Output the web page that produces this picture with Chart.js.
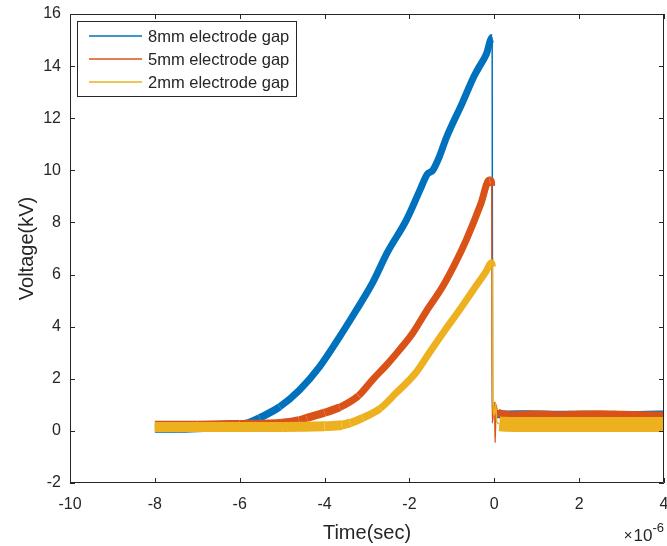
<!DOCTYPE html>
<html>
<head>
<meta charset="utf-8">
<script src="https://cdn.jsdelivr.net/npm/chart.js@4/dist/chart.umd.min.js"></script>
<style>
  html, body { margin: 0; padding: 0; background: #ffffff; }
  canvas { display: block; }
</style>
</head>
<body>
<canvas id="chart" width="667" height="546"></canvas>
<script>
// Discharge voltage waveforms for three electrode gaps.
// Time is in microseconds (the axis carries a x10^-6 multiplier), voltage in kV.

const seriesLabels = ['8mm electrode gap', '5mm electrode gap', '2mm electrode gap'];
const seriesColors = ['#0072BD', '#D95319', '#EDB120'];

const time8mm = [-8, -7.5, -7, -6.5, -6, -5.8, -5.53, -5.06, -4.59, -4.12, -3.65, -3.25, -2.87, -2.52,
                 -2.07, -1.75, -1.58, -1.45, -1.3, -1.13, -0.75, -0.48, -0.38, -0.19, -0.05, -0.04,
                 0.02, 0.06, 0.3, 0.8, 1.5, 2.2, 3.0, 3.6, 4.0];
const volt8mm = [0.1, 0.1, 0.12, 0.14, 0.2, 0.3, 0.5, 0.92, 1.57, 2.46, 3.6, 4.64, 5.68, 6.85,
                 8.1, 9.25, 9.85, 10.0, 10.5, 11.25, 12.6, 13.6, 13.9, 14.45, 15.1, 0.9,
                 0.75, 0.65, 0.63, 0.64, 0.62, 0.62, 0.6, 0.62, 0.63];

const time5mm = [-8, -7, -6, -5, -4.6, -4.42, -4.0, -3.65, -3.2, -2.87, -2.5, -2.24, -1.92, -1.6,
                 -1.22, -0.9, -0.66, -0.31, -0.12, -0.08, -0.06, -0.05, 0.01, 0.02, 0.04, 0.08,
                 0.5, 1.0, 1.5, 2.0, 2.5, 3.0, 3.5, 4.0];
const volt5mm = [0.22, 0.22, 0.25, 0.3, 0.4, 0.5, 0.7, 0.9, 1.35, 1.96, 2.6, 3.1, 3.76, 4.6,
                 5.53, 6.5, 7.33, 8.75, 9.63, 9.6, 9.4, 0.3, 1.1, -0.45, 1.0, 0.7,
                 0.6, 0.63, 0.6, 0.63, 0.64, 0.62, 0.6, 0.58];

const time2mm = [-8, -7, -6, -5, -4, -3.6, -3.4, -3.1, -2.7, -2.31, -1.84, -1.53, -1.2, -0.82,
                 -0.5, -0.2, -0.07, -0.045, -0.035, 0.0, 0.03, 0.06, 0.12, 0.5, 1.0, 1.5,
                 2.0, 2.5, 3.0, 3.5, 4.0];
const volt2mm = [0.15, 0.15, 0.15, 0.15, 0.18, 0.22, 0.3, 0.5, 0.85, 1.46, 2.25, 3.0, 3.78, 4.64,
                 5.4, 6.1, 6.45, 6.3, 1.2, 0.6, 1.1, 0.35, 0.27, 0.25, 0.25, 0.25,
                 0.25, 0.25, 0.25, 0.25, 0.25];

const xTicks = [-10, -8, -6, -4, -2, 0, 2, 4];
const yTicks = [-2, 0, 2, 4, 6, 8, 10, 12, 14, 16];

const FONT = "'Liberation Sans', Arial, Helvetica, sans-serif";
const AXIS_COLOR = '#262626';

function toPoints(t, v) {
  return t.map((x, i) => ({ x: x, y: v[i] }));
}

// Noisy traces are drawn as wide strokes whose width eases from the flat baseline
// to the ramp; the fast collapse and ringing at t = 0 are hairlines.
function bandWidth(flat, rising, after) {
  return ctx => {
    const x0 = ctx.p0.parsed.x;
    const dx = Math.abs(ctx.p1.x - ctx.p0.x);
    const dy = Math.abs(ctx.p1.y - ctx.p0.y);
    if (x0 > -0.07 && x0 < 0.1 && dx < 4) return 1.5;
    if (x0 >= 0.05) return after;
    const slope = dy / Math.max(dx, 0.01);
    const k = Math.max(0, 1 - slope / 0.7);
    return rising + (flat - rising) * k;
  };
}

const widths = [
  bandWidth(9, 7, 8),
  bandWidth(9, 7, 8),
  bandWidth(10, 7, 15)
];

const seriesData = [toPoints(time8mm, volt8mm), toPoints(time5mm, volt5mm), toPoints(time2mm, volt2mm)];

const datasets = seriesData.map((pts, i) => ({
  label: seriesLabels[i],
  data: pts,
  borderColor: seriesColors[i],
  backgroundColor: seriesColors[i],
  borderWidth: 7,
  borderJoinStyle: 'round',
  borderCapStyle: 'butt',
  pointRadius: 0,
  cubicInterpolationMode: 'monotone',
  fill: false,
  clip: 0,
  order: 3 - i,
  segment: { borderWidth: widths[i] }
}));

// Box outline, inward tick marks, legend and the exponent label.
const frame = {
  id: 'frame',
  afterDraw(chart) {
    const { ctx, chartArea: a, scales: { x, y } } = chart;
    ctx.save();
    ctx.strokeStyle = AXIS_COLOR;
    ctx.lineWidth = 1;
    ctx.beginPath();
    ctx.rect(Math.round(a.left) + 0.5, Math.round(a.top) + 0.5,
             Math.round(a.right - a.left) - 1, Math.round(a.bottom - a.top) - 1);
    ctx.stroke();

    const tl = 5;
    ctx.beginPath();
    xTicks.forEach(v => {
      const px = Math.round(x.getPixelForValue(v)) + 0.5;
      ctx.moveTo(px, a.bottom); ctx.lineTo(px, a.bottom - tl);
      ctx.moveTo(px, a.top); ctx.lineTo(px, a.top + tl);
    });
    yTicks.forEach(v => {
      const py = Math.round(y.getPixelForValue(v)) + 0.5;
      ctx.moveTo(a.left, py); ctx.lineTo(a.left + tl, py);
      ctx.moveTo(a.right, py); ctx.lineTo(a.right - tl, py);
    });
    ctx.stroke();

    // legend
    const lx = 77, ly = 21, lw = 219, lh = 75;
    ctx.fillStyle = '#ffffff';
    ctx.fillRect(lx, ly, lw, lh);
    ctx.strokeStyle = AXIS_COLOR;
    ctx.strokeRect(lx + 0.5, ly + 0.5, lw, lh);
    ctx.font = '16.5px ' + FONT;
    ctx.textBaseline = 'middle';
    ctx.textAlign = 'left';
    seriesLabels.forEach((lab, i) => {
      const rowY = 36 + i * 23;
      ctx.strokeStyle = seriesColors[i];
      ctx.lineWidth = 1.5;
      ctx.beginPath();
      ctx.moveTo(89, rowY); ctx.lineTo(142, rowY);
      ctx.stroke();
      ctx.fillStyle = AXIS_COLOR;
      ctx.fillText(lab, 148, rowY + 1);
    });

    // x10^-6 multiplier
    ctx.fillStyle = AXIS_COLOR;
    ctx.textBaseline = 'alphabetic';
    ctx.textAlign = 'left';
    const sup = '-6';
    ctx.font = '13px ' + FONT;
    const supW = ctx.measureText(sup).width;
    ctx.font = '17px ' + FONT;
    const baseW = ctx.measureText('10').width;
    ctx.font = '15px ' + FONT;
    const timesW = ctx.measureText('\u00d7').width;
    const right = 664;
    const sx = right - supW - baseW - timesW - 1;
    ctx.fillText('\u00d7', sx, 540);
    ctx.font = '17px ' + FONT;
    ctx.fillText('10', sx + timesW + 1, 541);
    ctx.font = '13px ' + FONT;
    ctx.fillText(sup, sx + timesW + 1 + baseW, 532);
    ctx.restore();
  }
};

new Chart(document.getElementById('chart').getContext('2d'), {
  type: 'line',
  data: { datasets: datasets },
  options: {
    responsive: false,
    animation: false,
    devicePixelRatio: 1,
    layout: { padding: { left: 0, right: 3, top: 14, bottom: 0 } },
    plugins: { legend: { display: false }, tooltip: { enabled: false } },
    scales: {
      x: {
        type: 'linear',
        min: -10, max: 4,
        afterBuildTicks: s => { s.ticks = xTicks.map(v => ({ value: v })); },
        afterFit: s => { s.height = 63; s.paddingLeft = 0; s.paddingRight = 0; },
        grid: { display: false, drawTicks: false },
        border: { display: false },
        ticks: { font: { family: FONT, size: 16 }, color: AXIS_COLOR, padding: 12, maxRotation: 0, autoSkip: false },
        title: { display: true, text: 'Time(sec)', font: { family: FONT, size: 20 }, color: AXIS_COLOR,
                 padding: { top: 0, bottom: 1 } }
      },
      y: {
        type: 'linear',
        min: -2, max: 16,
        afterBuildTicks: s => { s.ticks = yTicks.map(v => ({ value: v })); },
        afterFit: s => { s.width = 70; s.paddingTop = 0; s.paddingBottom = 0; },
        grid: { display: false, drawTicks: false },
        border: { display: false },
        ticks: { font: { family: FONT, size: 16 }, color: AXIS_COLOR, padding: 9, autoSkip: false },
        title: { display: true, text: 'Voltage(kV)', font: { family: FONT, size: 20 }, color: AXIS_COLOR,
                 padding: { top: 15, bottom: 0 } }
      }
    }
  },
  plugins: [frame]
});
</script>
</body>
</html>
